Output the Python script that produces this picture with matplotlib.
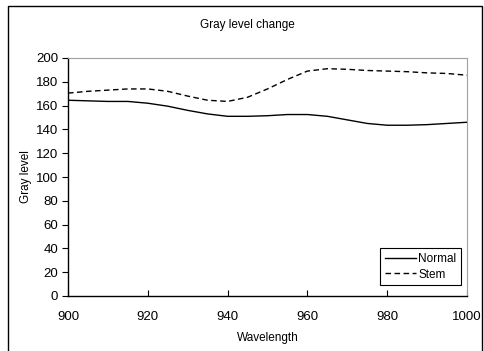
import matplotlib
matplotlib.use("Agg")
import matplotlib.pyplot as plt
from matplotlib.patches import Rectangle

# -- Data -------------------------------------------------------
wavelength = [900, 905, 910, 915, 920, 925, 930, 935, 940, 945, 950,
              955, 960, 965, 970, 975, 980, 985, 990, 995, 1000]
normal = [164.5, 164, 163.5, 163.5, 162, 159.5, 156, 153, 151, 151, 151.5,
          152.5, 152.5, 151, 148, 145, 143.5, 143.5, 144, 145, 146]
stem = [170.5, 172, 173, 174, 174, 172, 168, 164.5, 163.5, 167, 174,
        182, 189, 191, 190.5, 189.5, 189, 188.5, 187.5, 187, 185.5]
x_ticks = [900, 920, 940, 960, 980, 1000]
y_ticks = list(range(0, 201, 20))

plt.rcParams["font.family"] = ["Liberation Sans", "DejaVu Sans"]

W, H = 484, 351
fig = plt.figure(figsize=(W / 100, H / 100), dpi=100)
ax = fig.add_axes([68 / W, 1 - 296 / H, (467 - 68) / W, (296 - 58) / H])

ax.plot(wavelength, normal, color="black", linewidth=1.0, label="Normal")
ax.plot(wavelength, stem, color="black", linewidth=1.0, linestyle=(0, (4, 2.5)),
        label="Stem")

ax.set_xlim(900, 1000)
ax.set_ylim(0, 200)
ax.set_xticks(x_ticks)
ax.set_yticks(y_ticks)
ax.tick_params(axis="x", direction="in", length=4, width=0.8, labelsize=9.5, pad=11)
ax.tick_params(axis="y", direction="out", length=4, width=0.8, labelsize=9.5, pad=3)
for side in ["top", "right"]:
    ax.spines[side].set_color("#a0a0a0")
    ax.spines[side].set_linewidth(0.8)
for side in ["left", "bottom"]:
    ax.spines[side].set_linewidth(1.0)

ax.set_xlabel("Wavelength", fontsize=8.5, labelpad=6)
ax.set_ylabel("Gray level", fontsize=8.5, labelpad=3)
fig.text(247 / W, 1 - 25 / H, "Gray level change", ha="center", va="center",
         fontsize=8.5)

leg = ax.legend(loc="lower right", bbox_to_anchor=(0.985, 0.045), fontsize=8.5,
                fancybox=False, framealpha=1, edgecolor="black",
                handlelength=2.6, handletextpad=0.2, borderpad=0.4,
                labelspacing=0.3, borderaxespad=0)
leg.get_frame().set_linewidth(0.8)

# outer chart-area border
fig.patches.append(Rectangle((8 / W, -0.01), (482 - 8) / W, 1 - 6 / H + 0.01,
                             transform=fig.transFigure, fill=False,
                             edgecolor="black", linewidth=1.0))

fig.savefig("out.png", dpi=100)
